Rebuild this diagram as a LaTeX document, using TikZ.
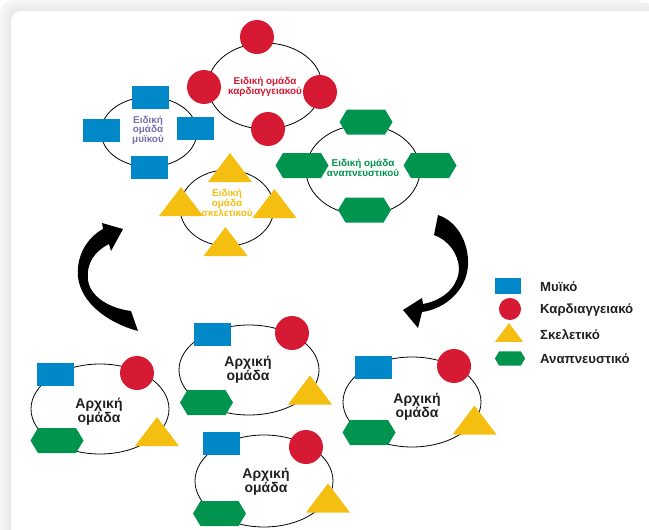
\documentclass[tikz,border=0pt]{standalone}
\usepackage{fontspec}
\setmainfont{Liberation Sans}
\definecolor{mblue}{HTML}{0088C8}
\definecolor{mred}{HTML}{D71A33}
\definecolor{myellow}{HTML}{F5BF12}
\definecolor{mgreen}{HTML}{00944E}
\definecolor{mpurple}{HTML}{7B6FAA}
\definecolor{mtext}{HTML}{231F20}
\tikzset{
  pics/mrect/.style={code={\fill[mblue] (-18.5,-11.5) rectangle (18.5,11.5);}},
  pics/mcirc/.style={code={\fill[mred] (0,0) circle[radius=17];}},
  pics/mtri/.style={code={\fill[myellow] (0,-14.5) -- (22,14.5) -- (-22,14.5) -- cycle;}},
  pics/mhex/.style={code={\fill[mgreen] (-26.5,0) -- (-19,-12.5) -- (19,-12.5) -- (26.5,0) -- (19,12.5) -- (-19,12.5) -- cycle;}},
  ring/.style={draw=black, line width=0.8pt},
  spectext/.style={font=\bfseries\fontsize{9.9}{10.3}\selectfont, align=center, inner sep=0pt},
  basetext/.style={font=\bfseries\fontsize{14}{12.8}\selectfont, align=center, inner sep=0pt, text=mtext},
  legtext/.style={font=\bfseries\fontsize{13.2}{14}\selectfont, anchor=west, inner sep=0pt, text=mtext},
  bigarrow/.style={fill=black},
}
\begin{document}
\begin{tikzpicture}[x=1pt,y=-1pt]
\useasboundingbox (0,0) rectangle (649,530);
% panel with soft shadow
\fill[white] (0,0) rectangle (649,530);
\fill[gray!8] (0,0) [rounded corners=14pt] rectangle (648,620);
\fill[gray!11] (3,3) [rounded corners=13pt] rectangle (660,620);
\fill[gray!14] (6,6) [rounded corners=12pt] rectangle (660,620);
\fill[gray!17] (9,9) [rounded corners=11pt] rectangle (660,620);
\fill[white] (11,11) [rounded corners=10pt] rectangle (680,620);

% ---------- top cluster: specialised groups ----------
% cardiac
\draw[ring] (265,86) ellipse[x radius=57, y radius=43];
\pic at (257,37) {mcirc};
\pic at (204,87) {mcirc};
\pic at (320,92) {mcirc};
\pic at (268,129) {mcirc};
\node[spectext, text=mred] (tcard) at (265,87) {Ειδική ομάδα\\καρδιαγγειακού};
% muscle
\draw[ring] (149,132) ellipse[x radius=48, y radius=35];
\pic at (150.5,97.5) {mrect};
\pic at (101.5,130.5) {mrect};
\pic at (195.5,128.5) {mrect};
\pic at (149.5,167.5) {mrect};
\node[spectext, text=mpurple, font=\bfseries\fontsize{9.9}{9.4}\selectfont] (tmus) at (148,130) {Ειδική\\ομάδα\\μυϊκού};
% skeletal
\draw[ring] (227,208) ellipse[x radius=47, y radius=38];
\pic at (230,167.5) {mtri};
\pic at (181,201.5) {mtri};
\pic at (274.5,203.5) {mtri};
\pic at (225.5,241.5) {mtri};
\node[spectext, text=myellow] (tske) at (227,203) {Ειδική\\ομάδα\\σκελετικού};
% respiratory
\draw[ring] (363,170) ellipse[x radius=57, y radius=45];
\pic at (366,122) {mhex};
\pic at (302,165.5) {mhex};
\pic at (430,165.5) {mhex};
\pic at (364.5,210) {mhex};
\node[spectext, text=mgreen] (tresp) at (363,168) {Ειδική ομάδα\\αναπνευστικού};

% ---------- curved arrows ----------
\fill[bigarrow] (131,311) -- (138,331)
  .. controls (108,323) and (81,303) .. (78,277)
  .. controls (76,255) and (88,237) .. (103,229)
  -- (102,223) -- (123,229) -- (111,251) -- (109,244)
  .. controls (95,251) and (86,263) .. (88,280)
  .. controls (90,296) and (108,308) .. (131,311) -- cycle;
\fill[bigarrow] (434,235) -- (438,215)
  .. controls (459,222) and (469,245) .. (468,265)
  .. controls (467,290) and (445,309) .. (422,312)
  -- (418,328) -- (403,310) -- (422,298) -- (423,304)
  .. controls (445,300) and (459,285) .. (459,268)
  .. controls (458,253) and (448,240) .. (434,235) -- cycle;

% ---------- bottom: initial groups ----------
% A
\draw[ring] (100,409) ellipse[x radius=69, y radius=45];
\pic at (55.5,374.5) {mrect};
\pic at (137,373) {mcirc};
\pic at (57,440.5) {mhex};
\pic at (157,431.5) {mtri};
\node[basetext] (ga) at (99,412) {Αρχική\\ομάδα};
% B
\draw[ring] (249,370) ellipse[x radius=70, y radius=45];
\pic at (212.5,334.5) {mrect};
\pic at (292,333) {mcirc};
\pic at (206.5,402.5) {mhex};
\pic at (310,390) {mtri};
\node[basetext] (gb) at (248,370) {Αρχική\\ομάδα};
% C
\draw[ring] (264,481) ellipse[x radius=69, y radius=46];
\pic at (221.5,443.5) {mrect};
\pic at (306,447) {mcirc};
\pic at (219.5,513.5) {mhex};
\pic at (328,498) {mtri};
\node[basetext] (gc) at (266,482) {Αρχική\\ομάδα};
% D
\draw[ring] (412,402) ellipse[x radius=69, y radius=45];
\pic at (373.5,367) {mrect};
\pic at (454,366) {mcirc};
\pic at (369,432.5) {mhex};
\pic at (474.5,420) {mtri};
\node[basetext] (gd) at (417,407) {Αρχική\\ομάδα};

% ---------- legend ----------
\pic[scale=0.7] at (508,286) {mrect};
\pic[scale=0.65] at (510,309) {mcirc};
\pic[scale=0.64] at (509,332.5) {mtri};
\pic[scale=0.57] at (510,358.5) {mhex};
\node[legtext] (l1) at (540,287) {Μυϊκό};
\node[legtext] (l2) at (540,310) {Καρδιαγγειακό};
\node[legtext] (l3) at (540,335) {Σκελετικό};
\node[legtext] (l4) at (540,359) {Αναπνευστικό};
\end{tikzpicture}
\end{document}
